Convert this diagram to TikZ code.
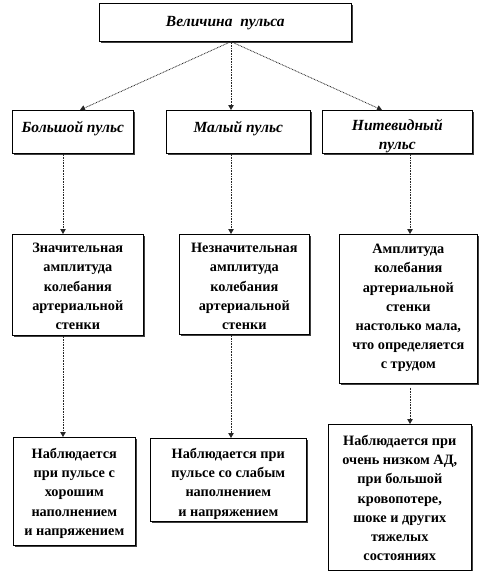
\documentclass[tikz,border=0pt]{standalone}
\usepackage{fontspec}
\setmainfont{Liberation Serif}
\usetikzlibrary{arrows.meta,shadows}
\newcommand{\bxt}[5]{\begin{minipage}[t][#2pt][t]{#1pt}\centering\fontsize{#5}{19.2}\selectfont\vspace*{#3pt}#4\par\end{minipage}}
\tikzset{
  box/.style={draw=black, line width=0.6pt, fill=white, inner sep=0pt, anchor=north west,
    drop shadow={shadow xshift=1.2pt, shadow yshift=-1.2pt, fill=black!75, opacity=1}},
  conn/.style={draw=black!85, line width=0.8pt, dash pattern=on 0.8pt off 0.8pt,
    -{Triangle[length=5pt,width=5.5pt]}},
}
\begin{document}
\begin{tikzpicture}[x=1pt,y=-1pt]
\useasboundingbox (0,0) rectangle (480,571);
% top
\node[box] (T) at (99,3) {\bxt{252}{38}{13}{\bfseries\itshape Величина\ \ пульса}{15.5}};
% row 2
\node[box] (A1) at (12,110) {\bxt{121}{43}{11}{\bfseries\itshape Большой пульс}{15.5}};
\node[box] (A2) at (166,110) {\bxt{144}{43}{11}{\bfseries\itshape Малый пульс}{15.5}};
\node[box] (A3) at (322,110) {\bxt{150}{43}{9.5}{\bfseries\itshape Нитевидный\\[-1pt]пульс}{15.5}};
% row 3
\node[box] (B1) at (12,234) {\bxt{131}{101}{9}{\bfseries Значительная\\амплитуда\\колебания\\артериальной\\стенки}{14.3}};
\node[box] (B2) at (179,234) {\bxt{130}{100}{9}{\bfseries Незначительная\\амплитуда\\колебания\\артериальной\\стенки}{14.3}};
\node[box] (B3) at (339,234) {\bxt{138}{149}{10}{\bfseries Амплитуда\\колебания\\артериальной\\стенки\\настолько мала,\\что определяется\\с трудом}{14.3}};
% row 4
\node[box] (C1) at (13,437) {\bxt{122}{108}{11}{\bfseries Наблюдается\\при пульсе с\\хорошим\\наполнением\\и напряжением}{14.3}};
\node[box] (C2) at (150,438) {\bxt{156}{83}{10}{\bfseries Наблюдается при\\пульсе со слабым\\наполнением\\и напряжением}{14.3}};
\node[box] (C3) at (328,424) {\bxt{143}{146}{11}{\bfseries Наблюдается при\\очень низком АД,\\при большой\\кровопотере,\\шоке и других\\тяжелых\\состояниях}{14.3}};
% connector columns
\coordinate (xo) at (231,0);
\coordinate (xa) at (80,0);
\coordinate (xc) at (382,0);
\coordinate (x1) at (63,0);
\coordinate (x2) at (231,0);
\coordinate (x3) at (410,0);
\draw[conn] (T.south -| xo) -- (A1.north -| xa);
\draw[conn] (T.south -| xo) -- (A2.north -| xo);
\draw[conn] (T.south -| xo) -- (A3.north -| xc);
\draw[conn] (A1.south -| x1) -- (B1.north -| x1);
\draw[conn] (A2.south -| x2) -- (B2.north -| x2);
\draw[conn] (A3.south -| x3) -- (B3.north -| x3);
\draw[conn] (B1.south -| x1) -- (C1.north -| x1);
\draw[conn] (B2.south -| x2) -- (C2.north -| x2);
\draw[conn] ([yshift=-4pt]B3.south -| x3) -- (C3.north -| x3);
\end{tikzpicture}
\end{document}
